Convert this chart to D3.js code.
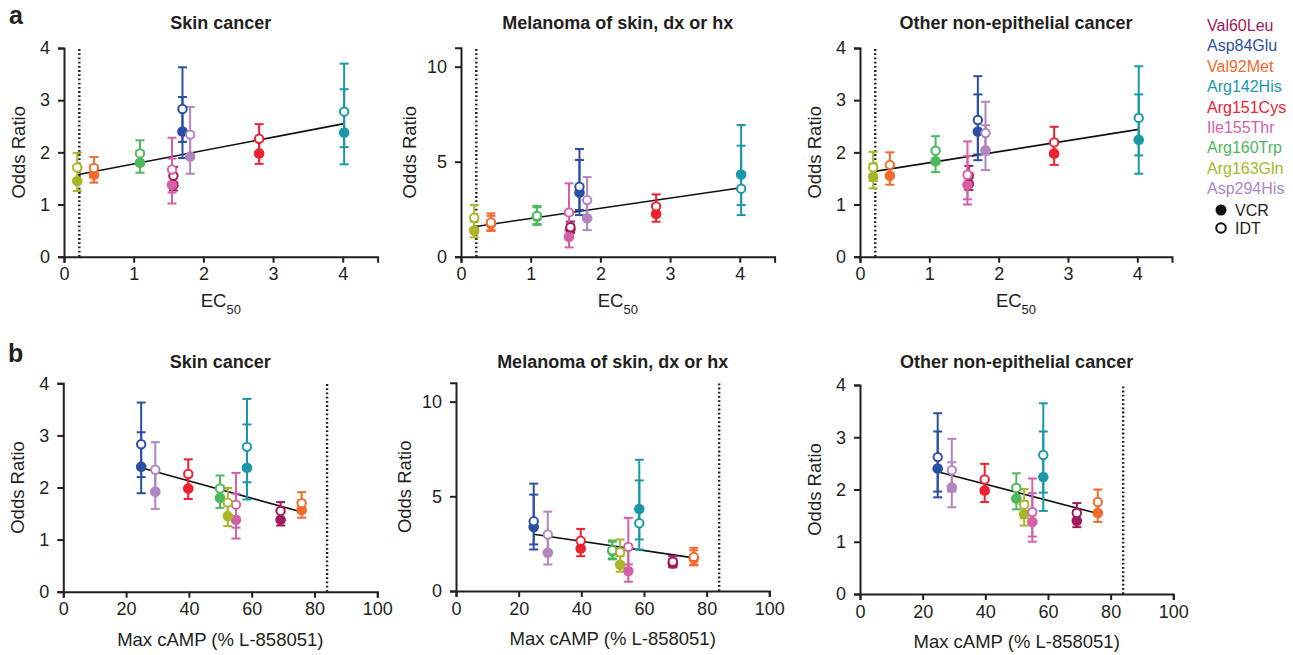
<!DOCTYPE html>
<html lang="en">
<head>
<meta charset="UTF-8">
<title>Odds ratio vs EC50 and max cAMP</title>
<script src="https://d3js.org/d3.v7.min.js"></script>
<style>
  body { margin: 0; background: #fff; font-family: "Liberation Sans", Arial, sans-serif; }
  .axis path, .axis line { stroke: #231f20; stroke-width: 2px; }
  .axis text { font-size: 18px; fill: #231f20; font-family: "Liberation Sans", Arial, sans-serif; }
  .title { font-size: 18px; font-weight: bold; fill: #231f20; }
  .label { font-size: 18.5px; fill: #231f20; }
  .panel-letter { font-size: 25px; font-weight: bold; fill: #231f20; }
  .legend text { font-size: 16px; }
</style>
</head>
<body>
<svg id="chart" width="1293" height="655"></svg>
<script>
// variants (legend order) and their colours
const variants = ["Val60Leu", "Asp84Glu", "Val92Met", "Arg142His", "Arg151Cys", "Ile155Thr", "Arg160Trp", "Arg163Gln", "Asp294His"];
const colors = ["#a3195b", "#2b50a3", "#f26b2d", "#1a98aa", "#ec2230", "#d460a8", "#4db85c", "#a9b62a", "#b085c2"];

// x values per variant
const ec50 = [1.57, 1.70, 0.43, 4.02, 2.80, 1.55, 1.09, 0.19, 1.81];
const maxCamp = [69.2, 24.8, 75.9, 58.5, 39.8, 55.0, 49.9, 52.4, 29.3];

// odds ratio [OR, lower, upper] per variant
const skinVcr = [[1.38, 1.27, 1.52], [2.40, 1.89, 3.06], [1.57, 1.42, 1.75], [2.38, 1.77, 3.21], [1.98, 1.78, 2.22], [1.38, 1.02, 1.88], [1.80, 1.61, 2.02], [1.45, 1.26, 1.67], [1.92, 1.59, 2.32]];
const skinIdt = [[1.55, 1.40, 1.72], [2.83, 2.20, 3.63], [1.70, 1.52, 1.91], [2.78, 2.10, 3.70], [2.26, 2.00, 2.54], [1.67, 1.23, 2.28], [1.98, 1.76, 2.23], [1.71, 1.47, 1.99], [2.34, 1.92, 2.87]];
const melVcr = [[1.45, 1.25, 1.70], [3.38, 2.19, 5.09], [1.72, 1.35, 2.15], [4.33, 2.72, 6.93], [2.25, 1.84, 2.75], [1.05, 0.49, 2.20], [2.10, 1.67, 2.60], [1.38, 1.02, 1.85], [2.02, 1.40, 2.90]];
const melIdt = [[1.55, 1.30, 1.85], [3.68, 2.46, 5.67], [1.80, 1.40, 2.28], [3.58, 2.19, 5.84], [2.65, 2.15, 3.28], [2.33, 1.40, 3.86], [2.15, 1.72, 2.67], [2.05, 1.50, 2.72], [2.98, 2.10, 4.19]];
const otherVcr = [[1.40, 1.28, 1.60], [2.40, 1.85, 3.11], [1.55, 1.38, 1.78], [2.24, 1.59, 3.11], [1.98, 1.76, 2.23], [1.38, 1.00, 1.93], [1.83, 1.62, 2.07], [1.53, 1.31, 1.78], [2.04, 1.66, 2.52]];
const otherIdt = [[1.55, 1.38, 1.74], [2.62, 1.96, 3.46], [1.76, 1.55, 2.00], [2.66, 1.94, 3.65], [2.19, 1.93, 2.49], [1.57, 1.10, 2.21], [2.03, 1.78, 2.31], [1.71, 1.45, 2.01], [2.37, 1.96, 2.97]];

// regression fits: [x0, y0, x1, y1]
const fitEc50 = { skin: [0.19, 1.57, 4.02, 2.55], mel: [0.19, 1.58, 4.02, 3.63], other: [0.19, 1.63, 4.02, 2.44] };
const fitCamp = { skin: [24.8, 2.38, 75.9, 1.53], mel: [24.8, 3.00, 75.9, 1.75], other: [24.8, 2.34, 75.9, 1.54] };

// reference lines (wild type)
const wtEc50 = 0.22;
const wtCamp = 84;

// axis ticks
const ticksEc50 = [0, 1, 2, 3, 4];
const ticksCamp = [0, 20, 40, 60, 80, 100];
const ticksOr4 = [0, 1, 2, 3, 4];
const ticksOr11 = [0, 5, 10];

const titles = ["Skin cancer", "Melanoma of skin, dx or hx", "Other non-epithelial cancer"];

const svg = d3.select("#chart");
const ink = "#231f20";

const panels = [
  { l: 64, r: 377.6, t: 48, b: 256.7, xd: [0, 4.5], yd: [0, 4], xt: ticksEc50, yt: ticksOr4, xs: ec50, vcr: skinVcr, idt: skinIdt, fit: fitEc50.skin, wt: wtEc50, title: titles[0], titleY: 29, ec: true },
  { l: 461, r: 774.6, t: 47.7, b: 256.7, xd: [0, 4.5], yd: [0, 11], xt: ticksEc50, yt: ticksOr11, xs: ec50, vcr: melVcr, idt: melIdt, fit: fitEc50.mel, wt: wtEc50, title: titles[1], titleY: 29, ec: true },
  { l: 860, r: 1172, t: 48, b: 256.7, xd: [0, 4.5], yd: [0, 4], xt: ticksEc50, yt: ticksOr4, xs: ec50, vcr: otherVcr, idt: otherIdt, fit: fitEc50.other, wt: wtEc50, title: titles[2], titleY: 29, ec: true },
  { l: 63.3, r: 377.3, t: 383.3, b: 591.7, xd: [0, 100], yd: [0, 4], xt: ticksCamp, yt: ticksOr4, xs: maxCamp, vcr: skinVcr, idt: skinIdt, fit: fitCamp.skin, wt: wtCamp, title: titles[0], titleY: 367.5, ec: false },
  { l: 456, r: 769.3, t: 382.7, b: 591, xd: [0, 100], yd: [0, 11], xt: ticksCamp, yt: ticksOr11, xs: maxCamp, vcr: melVcr, idt: melIdt, fit: fitCamp.mel, wt: wtCamp, title: titles[1], titleY: 367.5, ec: false },
  { l: 860, r: 1173.3, t: 385, b: 594, xd: [0, 100], yd: [0, 4], xt: ticksCamp, yt: ticksOr4, xs: maxCamp, vcr: otherVcr, idt: otherIdt, fit: fitCamp.other, wt: wtCamp, title: titles[2], titleY: 367.5, ec: false }
];

panels.forEach(p => {
  const x = d3.scaleLinear().domain(p.xd).range([p.l, p.r]);
  const y = d3.scaleLinear().domain(p.yd).range([p.b, p.t]);
  const g = svg.append("g");

  // axes
  g.append("g").attr("class", "axis")
    .attr("transform", `translate(0,${p.b})`)
    .call(d3.axisBottom(x).tickValues(p.xt).tickFormat(d3.format("d")).tickSizeOuter(0).tickSize(6).tickPadding(5));
  g.append("g").attr("class", "axis")
    .attr("transform", `translate(${p.l},0)`)
    .call(d3.axisLeft(y).tickValues(p.yt).tickFormat(d3.format("d")).tickSizeOuter(0).tickSize(6).tickPadding(8));

  // wild-type dotted line
  g.append("line")
    .attr("x1", x(p.wt)).attr("x2", x(p.wt))
    .attr("y1", y(p.yd[0])).attr("y2", y(p.yd[1]))
    .attr("stroke", ink).attr("stroke-width", 2.4).attr("stroke-dasharray", "1.8,2.4");

  // regression line
  g.append("line")
    .attr("x1", x(p.fit[0])).attr("y1", y(p.fit[1]))
    .attr("x2", x(p.fit[2])).attr("y2", y(p.fit[3]))
    .attr("stroke", "#111").attr("stroke-width", 1.6);

  // error bars
  const bars = [];
  variants.forEach((v, i) => {
    bars.push({ x: p.xs[i], d: p.vcr[i], c: colors[i] });
    bars.push({ x: p.xs[i], d: p.idt[i], c: colors[i] });
  });
  const eb = g.selectAll(".eb").data(bars).enter().append("g");
  eb.append("line")
    .attr("x1", d => x(d.x)).attr("x2", d => x(d.x))
    .attr("y1", d => y(d.d[1])).attr("y2", d => y(d.d[2]))
    .attr("stroke", d => d.c).attr("stroke-width", 2);
  [1, 2].forEach(k => {
    eb.append("line")
      .attr("x1", d => x(d.x) - 4.5).attr("x2", d => x(d.x) + 4.5)
      .attr("y1", d => y(d.d[k])).attr("y2", d => y(d.d[k]))
      .attr("stroke", d => d.c).attr("stroke-width", 2);
  });

  // VCR (filled)
  g.selectAll(".vcr").data(variants).enter().append("circle")
    .attr("cx", (v, i) => x(p.xs[i])).attr("cy", (v, i) => y(p.vcr[i][0]))
    .attr("r", 5.3).attr("fill", (v, i) => colors[i]);
  // IDT (open)
  g.selectAll(".idt").data(variants).enter().append("circle")
    .attr("cx", (v, i) => x(p.xs[i])).attr("cy", (v, i) => y(p.idt[i][0]))
    .attr("r", 4.2).attr("fill", "#fff").attr("stroke", (v, i) => colors[i]).attr("stroke-width", 2);

  // title
  g.append("text").attr("class", "title")
    .attr("x", (p.l + p.r) / 2).attr("y", p.titleY)
    .attr("text-anchor", "middle").text(p.title);

  // y label
  const off = p.yd[1] > 9 ? 45 : 39;
  g.append("text").attr("class", "label")
    .attr("transform", `translate(${p.l - off},${(p.t + p.b) / 2}) rotate(-90)`)
    .attr("text-anchor", "middle").text("Odds Ratio");

  // x label
  const xl = g.append("text").attr("class", "label")
    .attr("x", (p.l + p.r) / 2).attr("text-anchor", "middle");
  if (p.ec) {
    xl.attr("y", p.b + 50);
    xl.append("tspan").text("EC");
    xl.append("tspan").attr("font-size", "13px").attr("dy", 7).text("50");
  } else {
    xl.attr("y", p.b + 54).text("Max cAMP (% L-858051)");
  }
});

// panel letters
svg.append("text").attr("class", "panel-letter").attr("x", 9).attr("y", 24).text("a");
svg.append("text").attr("class", "panel-letter").attr("x", 8).attr("y", 362).text("b");

// legend
const legend = svg.append("g").attr("class", "legend");
legend.selectAll(".lt").data(variants).enter().append("text")
  .attr("x", 1207).attr("y", (d, i) => 31 + i * 20.4)
  .attr("fill", (d, i) => colors[i]).text(d => d);
legend.append("circle").attr("cx", 1221).attr("cy", 210).attr("r", 5.5).attr("fill", "#111");
legend.append("circle").attr("cx", 1221).attr("cy", 228).attr("r", 4.8).attr("fill", "#fff").attr("stroke", "#111").attr("stroke-width", 2);
legend.append("text").attr("x", 1235).attr("y", 215.5).attr("fill", ink).text("VCR");
legend.append("text").attr("x", 1235).attr("y", 233.5).attr("fill", ink).text("IDT");
</script>
</body>
</html>
